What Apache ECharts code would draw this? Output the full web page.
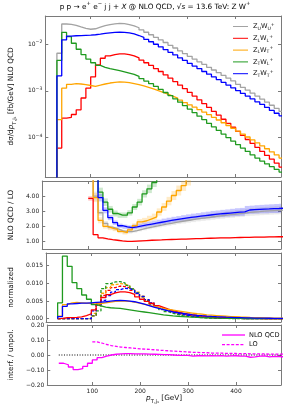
<!DOCTYPE html>
<html><head><meta charset="utf-8">
<script src="https://cdn.jsdelivr.net/npm/echarts@6/dist/echarts.min.js"></script>
<style>html,body{margin:0;padding:0;background:#fff}#c{width:293px;height:410px}</style>
</head><body><div id="c"></div><script>
// ---------------- data ----------------
const binEdges = [30,40,50,60,70,80,90,100,110,120,130,140,150,160,170,180,190,200,210,220,230,240,250,260,270,280,290,300,310,320,330,340,350,360,370,380,390,400,410,420,430,440,450,460,470,480,490,500];
const xTicks = [100,200,300,400];

// panel 1: dsigma/dpT NLO QCD [fb/GeV]
const nloUU = [0.0064,0.0272,0.0268,0.0255,0.0235,0.0218,0.0210,0.0215,0.0232,0.0250,0.0265,0.0275,0.0280,0.0276,0.0265,0.0248,
 0.0226,0.0203,0.0181,0.0160,0.0141,0.0124,0.0109,0.0095,0.0083,0.0072,0.0063,
 0.0055,0.0048,0.0042,0.0037,0.0032,0.0028,0.00245,0.00214,0.00187,0.00163,
 0.00138,0.00119,0.00103,0.00089,0.00077,0.00066,0.00057,0.00049,0.00042,0.00036];
const nloLL = [5.9e-5,2.6e-4,2.7e-4,3.1e-4,3.9e-4,7.0e-4,1.14e-3,2.0e-3,3.6e-3,5.0e-3,5.6e-3,6.0e-3,6.2e-3,6.2e-3,6.0e-3,5.6e-3,
 5.1e-3,4.55e-3,4.0e-3,3.5e-3,3.0e-3,2.6e-3,2.2e-3,1.87e-3,1.58e-3,1.33e-3,1.11e-3,
 9.3e-4,7.7e-4,6.4e-4,5.3e-4,4.4e-4,3.6e-4,3.0e-4,2.45e-4,2.0e-4,1.65e-4,
 1.35e-4,1.1e-4,9.0e-5,7.4e-5,6.1e-5,5.0e-5,4.1e-5,3.4e-5,2.8e-5,2.3e-5];
const nloLT = [2.4e-4,1.14e-3,1.38e-3,1.42e-3,1.40e-3,1.36e-3,1.30e-3,1.25e-3,1.32e-3,1.40e-3,1.47e-3,1.52e-3,1.55e-3,1.54e-3,1.50e-3,1.43e-3,
 1.36e-3,1.28e-3,1.19e-3,1.10e-3,1.01e-3,9.3e-4,8.5e-4,7.7e-4,7.0e-4,6.3e-4,5.6e-4,
 5.0e-4,4.45e-4,3.95e-4,3.5e-4,3.08e-4,2.7e-4,2.36e-4,2.06e-4,1.8e-4,1.57e-4,
 1.36e-4,1.18e-4,1.02e-4,8.8e-5,7.6e-5,6.6e-5,5.7e-5,4.9e-5,4.2e-5,3.6e-5];
const nloTL = [4.5e-3,0.0179,0.0146,0.0105,7.8e-3,6.0e-3,4.8e-3,4.0e-3,3.5e-3,3.2e-3,3.0e-3,2.85e-3,2.7e-3,2.55e-3,2.4e-3,2.25e-3,
 2.05e-3,1.83e-3,1.62e-3,1.42e-3,1.24e-3,1.07e-3,9.2e-4,7.9e-4,6.7e-4,5.7e-4,4.8e-4,
 4.05e-4,3.4e-4,2.85e-4,2.4e-4,2.0e-4,1.68e-4,1.41e-4,1.18e-4,9.9e-5,8.3e-5,
 7.0e-5,5.9e-5,5.0e-5,4.2e-5,3.6e-5,3.1e-5,2.7e-5,2.35e-5,2.05e-5,1.8e-5];
const nloTT = [0.0021,0.0124,0.0150,0.0152,0.0153,0.0155,0.0157,0.0160,0.0165,0.0171,0.0176,0.0180,0.0182,0.0180,0.0175,0.0166,
 0.0154,0.0141,0.0127,0.0113,0.0100,0.0088,0.0077,0.0067,0.0059,0.0051,0.0045,
 0.0039,0.0034,0.0030,0.0026,0.00228,0.00199,0.00174,0.00152,0.00133,0.00116,
 0.00101,0.00088,0.00077,0.00067,0.00058,0.00051,0.00044,0.00038,0.00033,0.00029];

// panel 2: NLO QCD / LO ratio and scale-band half widths
const N7 = [null,null,null,null,null,null,null];
const ratioUU = [...N7, 9.0,4.0,2.9,2.2,1.95,1.85,1.72,1.65,1.65,
 1.72,1.80,1.88,1.95,2.02,2.08,2.15,2.20,2.26,2.32,2.37,
 2.42,2.47,2.52,2.56,2.60,2.65,2.69,2.73,2.77,2.80,
 2.84,2.87,2.92,2.95,2.97,3.00,3.02,3.04,3.06,3.08];
const ratioLL = [...N7, 3.85,1.45,1.24,1.17,1.12,1.08,1.04,1.01,1.00,
 1.02,1.04,1.06,1.08,1.09,1.10,1.12,1.13,1.14,1.15,1.16,
 1.17,1.18,1.19,1.20,1.21,1.22,1.23,1.24,1.24,1.25,
 1.26,1.27,1.27,1.28,1.29,1.29,1.30,1.30,1.31,1.31];
const ratioLT = [...N7, 9.0,3.9,2.4,2.0,1.88,1.80,1.66,1.58,1.76,
 2.04,2.30,2.37,2.50,2.62,2.95,3.28,3.67,4.04,4.37,4.70,
 5.10,5.60,6.20];
const ratioTL = [...N7, 9.0,7.0,4.26,3.6,3.13,2.85,2.74,2.74,2.89,
 3.28,3.60,4.15,4.48,4.90,5.40,6.00];
const ratioTT = [...N7, 9.0,6.0,3.9,3.06,2.58,2.24,2.04,1.97,1.92,
 1.97,2.03,2.09,2.15,2.21,2.27,2.33,2.39,2.44,2.49,2.54,
 2.59,2.63,2.67,2.71,2.75,2.79,2.82,2.85,2.88,2.91,
 2.94,2.96,3.08,3.10,3.12,3.14,3.15,3.17,3.18,3.20];
const bandUU = [...N7, 0.5,0.3,0.2,0.15,0.12,0.12,0.12,0.12,0.12,
 0.13,0.13,0.14,0.14,0.15,0.15,0.16,0.16,0.17,0.17,0.18,
 0.18,0.19,0.19,0.20,0.20,0.21,0.21,0.22,0.22,0.23,
 0.23,0.24,0.24,0.25,0.25,0.26,0.26,0.27,0.27,0.28];
const bandLL = [...N7, 0.15,0.04,0.03,0.03,0.03,0.03,0.03,0.03,0.03,
 0.03,0.03,0.03,0.03,0.03,0.03,0.03,0.03,0.03,0.03,0.03,
 0.03,0.03,0.03,0.03,0.03,0.03,0.03,0.03,0.03,0.03,
 0.03,0.03,0.03,0.03,0.03,0.03,0.03,0.03,0.03,0.03];
const bandLT = [...N7, 0.5,0.3,0.2,0.15,0.13,0.12,0.12,0.12,0.14,
 0.16,0.18,0.19,0.20,0.22,0.24,0.26,0.28,0.30,0.33,0.36,
 0.40,0.44,0.48];
const bandTL = [...N7, 0.6,0.5,0.3,0.25,0.22,0.20,0.18,0.18,0.18,
 0.20,0.22,0.24,0.28,0.30,0.33,0.36];
const bandTT = [...N7, 0.5,0.35,0.25,0.20,0.17,0.15,0.14,0.14,0.14,
 0.15,0.15,0.16,0.16,0.17,0.17,0.18,0.18,0.19,0.19,0.20,
 0.20,0.21,0.21,0.22,0.22,0.23,0.23,0.24,0.24,0.25,
 0.26,0.26,0.27,0.27,0.28,0.28,0.29,0.29,0.30,0.30];

// panel 3: normalized distributions (solid NLO QCD, dashed LO)
const normNloLL = [0.00007,0.0003,0.0003,0.00035,0.0005,0.0009,0.0014,0.0025,0.0042,0.0060,0.0068,0.0073,0.0076,0.0076,0.0074,0.0069,
 0.0062,0.0055,0.0049,0.0043,0.0037,0.0032,0.0027,0.0023,0.0019,0.0016,0.00135,
 0.00113,0.00094,0.00078,0.00065,0.00054,0.00044,0.00037,0.0003,0.00025,0.0002,
 0.00017,0.00014,0.00011,0.00009,0.000075,0.00006,0.00005,0.00004,0.000035,0.00003];
const normNloLT = [0.0007,0.0040,0.0045,0.0046,0.0045,0.0044,0.0043,0.0041,0.0043,0.0045,0.0047,0.0049,0.0050,0.0050,0.0049,0.0047,
 0.0044,0.0041,0.0038,0.0035,0.0032,0.0029,0.0026,0.0024,0.0022,0.0020,0.0018,
 0.0016,0.0014,0.0013,0.0011,0.0010,0.0009,0.0008,0.0007,0.0006,0.00055,
 0.00048,0.00042,0.00036,0.00032,0.00028,0.00024,0.00021,0.00018,0.00016,0.00014];
const normNloTL = [0.0045,0.0177,0.0148,0.0102,0.0085,0.0067,0.0055,0.0040,0.0036,0.0033,0.0031,0.0030,0.0029,0.0027,0.0025,0.0023,
 0.0021,0.0019,0.0017,0.0015,0.0013,0.0011,0.00095,0.0008,0.0007,0.0006,0.0005,
 0.00042,0.00036,0.0003,0.00025,0.00021,0.00017,0.00014,0.00012,0.0001,0.00008,
 0.00007,0.00006,0.00005,0.00004,0.000035,0.00003,0.000025,0.00002,0.00002,0.000015];
const normNloTT = [0.0006,0.0035,0.0042,0.0043,0.0044,0.0044,0.0045,0.0046,0.0047,0.0048,0.0050,0.0051,0.0052,0.0051,0.0050,0.0048,
 0.0045,0.0041,0.0037,0.0033,0.0029,0.0026,0.0022,0.0019,0.0017,0.0015,0.0013,
 0.0011,0.00097,0.00085,0.00074,0.00065,0.00057,0.0005,0.00043,0.00038,0.00033,
 0.00029,0.00025,0.00022,0.00019,0.00017,0.00015,0.00013,0.00011,0.0001,0.00009];
const Z7 = [0,0,0,0,0,0,0];
const normLoLL = [...Z7, 0.0008,0.0040,0.0066,0.0080,0.0088,0.0092,0.0091,0.0087,0.0080,
 0.0071,0.0062,0.0053,0.0045,0.0037,0.0030,0.0025,0.0020,0.0016,0.0013,0.0010,
 0.0008,0.00064,0.0005,0.0004,0.00032,0.00025,0.0002,0.00016,0.00013,0.0001,
 0.00008,0.00006,0.00005,0.00004,0.00003,0.000025,0.00002,0.000015,0.00001,0.00001];
const normLoLT = [...Z7, 0.0015,0.0045,0.0072,0.0088,0.0096,0.0099,0.0098,0.0093,0.0085,
 0.0075,0.0064,0.0054,0.0045,0.0037,0.0030,0.0024,0.0019,0.0015,0.0012,0.0009,
 0.0007,0.00055,0.00043,0.00034,0.00027,0.00021,0.00017,0.00013,0.0001,0.00008,
 0.00006,0.00005,0.00004,0.00003,0.000025,0.00002,0.000015,0.00001,0.00001,0.00001];
const normLoTL = [...Z7, 0.0008,0.0022,0.0085,0.0099,0.0104,0.0105,0.0101,0.0094,0.0084,
 0.0073,0.0062,0.0051,0.0041,0.0033,0.0026,0.0020,0.0015,0.0012,0.0009,0.0007,
 0.00052,0.0004,0.0003,0.00023,0.00017,0.00013,0.0001,0.00008,0.00006,0.00005,
 0.00004,0.00003,0.000025,0.00002,0.000015,0.00001,0.00001,0.00001,0.000005,0.000005];
const normLoTT = [...Z7, 0.0022,0.0038,0.0052,0.0065,0.0075,0.0082,0.0086,0.0085,0.0080,
 0.0072,0.0063,0.0054,0.0045,0.0037,0.0030,0.0024,0.0019,0.0015,0.0012,0.00095,
 0.00075,0.0006,0.00048,0.00038,0.0003,0.00024,0.00019,0.00015,0.00012,0.0001,
 0.00008,0.00006,0.00005,0.00004,0.00003,0.000025,0.00002,0.00002,0.000015,0.00001];

// panel 4: interference / unpolarized
const interfNlo = [-0.055,-0.065,-0.080,-0.097,-0.091,-0.076,-0.055,-0.033,-0.018,-0.008,0.0,0.005,0.008,0.009,0.009,0.008,
 0.008,0.007,0.006,0.005,0.004,0.003,0.002,0.0,-0.002,-0.003,-0.002,
 -0.008,-0.005,-0.004,-0.006,-0.005,-0.006,-0.004,-0.007,-0.006,-0.005,
 -0.008,-0.007,-0.015,-0.012,-0.008,-0.006,-0.013,-0.009,-0.010,-0.012];
const interfLo = [...N7, 0.087,0.080,0.070,0.063,0.058,0.053,0.050,0.047,0.044,
 0.041,0.039,0.037,0.035,0.032,0.030,0.028,0.026,0.024,0.022,0.020,
 0.018,0.017,0.016,0.015,0.013,0.012,0.012,0.011,0.010,0.010,
 0.009,0.009,0.008,0.008,0.007,0.007,0.006,0.006,0.006,0.005];
const zeroRef = 0;

// tick values
const ratioTicks = [1,2,3,4];
const normTicks = [0,0.005,0.01,0.015];
const interfTicks = [-0.2,-0.1,0,0.1,0.2];

// legend labels: [Z pol, W pol]
const legendNames = ['UU','LL','LT','TL','TT'];
const legendPol = {UU:['U','U'],LL:['L','L'],LT:['L','T'],TL:['T','L'],TT:['T','T']};
const legend4 = ['NLO QCD','LO'];

// ---------------- styling ----------------
const FONT = 'DejaVu Sans';
const C = {UU:'#a3a3a3', LL:'#ff0000', LT:'#ffa500', TL:'#1f9a1f', TT:'#0000ff', MAG:'#ff00ff'};
const FRAME = '#7a7a7a';
const DASH = [3,1.6];
const X_MIN = 6, X_MAX = 494;
const grids = [
  {left:29, width:252, top:16, height:161},
  {left:29, width:252, top:181, height:68},
  {left:29, width:252, top:253, height:69},
  {left:29, width:252, top:325, height:60}
];
const rich = {
  n:{fontFamily:FONT,fontSize:7.3,color:'#111',lineHeight:11},
  i:{fontFamily:FONT,fontSize:7.3,color:'#111',fontStyle:'italic',lineHeight:11},
  sub:{fontFamily:FONT,fontSize:5.2,color:'#111',lineHeight:5,verticalAlign:'bottom'},
  sup:{fontFamily:FONT,fontSize:5.2,color:'#111',lineHeight:5,verticalAlign:'top'},
  b:{fontFamily:FONT,fontSize:6,color:'#222',lineHeight:9},
  s:{fontFamily:FONT,fontSize:4.6,color:'#222',lineHeight:4.6,verticalAlign:'top'}
};
const richLeg = {
  n:{fontFamily:FONT,fontSize:6.6,color:'#111',lineHeight:9},
  sub:{fontFamily:FONT,fontSize:4.6,color:'#111',lineHeight:4,verticalAlign:'bottom'},
  sup:{fontFamily:FONT,fontSize:4.6,color:'#111',lineHeight:4,verticalAlign:'top'}
};

function stepData(vals, baseline){
  let first = -1, last = -1;
  for (let i=0;i<vals.length;i++){ if (vals[i]!=null){ if(first<0) first=i; last=i; } }
  const d = [];
  if (baseline !== undefined) d.push([binEdges[first], baseline]);
  for (let i=first;i<=last;i++) d.push([binEdges[i], vals[i]]);
  d.push([binEdges[last+1], vals[last]]);
  return d;
}
function line(name, vals, gi, color, opt){
  opt = opt || {};
  return {type:'line', name:name, step:'end', symbol:'none', showSymbol:false,
    xAxisIndex:gi, yAxisIndex:gi, animation:false, clip:true, z: opt.z || 3,
    data: stepData(vals, opt.baseline),
    lineStyle:{color:color, width: opt.width || 1.3, type: opt.type || 'solid'},
    itemStyle:{color:color}, emphasis:{disabled:true}};
}
function band(name, vals, half, gi, color){
  const d = [];
  for (let i=0;i<vals.length;i++){
    if (vals[i]==null || half[i]==null) continue;
    d.push([binEdges[i], binEdges[i+1], vals[i]-half[i], vals[i]+half[i]]);
  }
  return {type:'custom', name:name, xAxisIndex:gi, yAxisIndex:gi, animation:false, z:2,
    encode:{x:[0,1], y:[2,3]}, data:d,
    renderItem:function(params, api){
      const p0 = api.coord([api.value(0), api.value(3)]);
      const p1 = api.coord([api.value(1), api.value(2)]);
      const r = echarts.graphic.clipRectByRect(
        {x:p0[0], y:p0[1], width:p1[0]-p0[0], height:p1[1]-p0[1]},
        {x:params.coordSys.x, y:params.coordSys.y, width:params.coordSys.width, height:params.coordSys.height});
      if (!r) return null;
      return {type:'rect', shape:r, style:{fill:color, opacity:0.22}};
    }};
}
const minus = s => s.replace('-', '\u2212');
function baseX(gi, pos){
  return {type:'value', gridIndex:gi, min:X_MIN, max:X_MAX, position:pos,
    axisLine:{show:true, onZero:false, lineStyle:{color:FRAME, width:1}},
    axisTick:{show:true, inside:true, length:3, customValues:xTicks, lineStyle:{color:FRAME}},
    axisLabel:{show: gi===3 && pos==='bottom', customValues:xTicks, fontFamily:FONT, fontSize:6, color:'#222', margin:3},
    splitLine:{show:false}};
}
function baseY(gi, pos, extra){
  return Object.assign({gridIndex:gi, position:pos,
    axisLine:{show:true, onZero:false, lineStyle:{color:FRAME, width:1}},
    splitLine:{show:false}}, extra);
}
const xAxes = [], yAxes = [];
for (let g=0; g<4; g++) xAxes.push(baseX(g,'bottom'));
for (let g=0; g<4; g++) xAxes.push(baseX(g,'top'));
xAxes[3].name = '{i|p}{sub|T,j\u2081}{n| [GeV]}';
xAxes[3].nameLocation = 'middle';
xAxes[3].nameGap = 8;
xAxes[3].nameTextStyle = {rich:rich, fontFamily:FONT, fontSize:7.3, color:'#111'};

const lab = {fontFamily:FONT, fontSize:6, color:'#222', margin:3};
const tick = (vals)=>({show:true, inside:true, length:3, lineStyle:{color:FRAME}, customValues:vals});
const logY = (pos, show)=>baseY(0, pos, {type:'log', logBase:10, min:1.41e-5, max:0.0404,
  axisTick:{show:true, inside:true, length:3, lineStyle:{color:FRAME}},
  axisLabel:{show:show, showMinLabel:false, showMaxLabel:false, fontFamily:FONT, fontSize:6, margin:3, rich:rich,
    formatter:function(v){ const e = Math.round(Math.log10(v)); return '{b|10}{s|\u2212'+Math.abs(e)+'}'; }}});
const nameStyle = {rich:rich, fontFamily:FONT, fontSize:7.3, color:'#111'};
yAxes.push(Object.assign(logY('left', true), {name:'{n|d\u03c3/d}{i|p}{sub|T,j\u2081}{n| [fb/GeV] NLO QCD}', nameLocation:'middle', nameGap:19, nameTextStyle:nameStyle}));
yAxes.push(baseY(1,'left',{type:'value', min:0.5, max:5, axisTick:tick(ratioTicks),
  axisLabel:Object.assign({customValues:ratioTicks, formatter:v=>v.toFixed(2)}, lab),
  name:'NLO QCD / LO', nameLocation:'middle', nameGap:18, nameTextStyle:nameStyle}));
yAxes.push(baseY(2,'left',{type:'value', min:-0.00093, max:0.01858, axisTick:tick(normTicks),
  axisLabel:Object.assign({customValues:normTicks, formatter:v=>v.toFixed(3)}, lab),
  name:'normalized', nameLocation:'middle', nameGap:22, nameTextStyle:nameStyle}));
yAxes.push(baseY(3,'left',{type:'value', min:-0.2, max:0.2, axisTick:tick(interfTicks),
  axisLabel:Object.assign({customValues:interfTicks, formatter:v=>minus(v.toFixed(2))}, lab),
  name:'interf. / unpol.', nameLocation:'middle', nameGap:20, nameTextStyle:nameStyle}));
yAxes.push(logY('right', false));
yAxes.push(baseY(1,'right',{type:'value', min:0.5, max:5, axisTick:tick(ratioTicks), axisLabel:{show:false}}));
yAxes.push(baseY(2,'right',{type:'value', min:-0.00093, max:0.01858, axisTick:tick(normTicks), axisLabel:{show:false}}));
yAxes.push(baseY(3,'right',{type:'value', min:-0.2, max:0.2, axisTick:tick(interfTicks), axisLabel:{show:false}}));

// ---------------- series ----------------
const series = [];
const p1 = {UU:nloUU, LL:nloLL, LT:nloLT, TL:nloTL, TT:nloTT};
legendNames.forEach(k => series.push(line(k, p1[k], 0, C[k], {baseline:1e-8})));
const p2 = {UU:[ratioUU,bandUU], LL:[ratioLL,bandLL], LT:[ratioLT,bandLT], TL:[ratioTL,bandTL], TT:[ratioTT,bandTT]};
legendNames.forEach(k => series.push(band('band'+k, p2[k][0], p2[k][1], 1, C[k])));
legendNames.forEach(k => series.push(line('ratio'+k, p2[k][0], 1, C[k])));
const p3 = {LL:[normNloLL,normLoLL], LT:[normNloLT,normLoLT], TL:[normNloTL,normLoTL], TT:[normNloTT,normLoTT]};
['LL','LT','TL','TT'].forEach(k => series.push(line('lo'+k, p3[k][1], 2, C[k], {baseline:0, type:DASH})));
['LL','LT','TL','TT'].forEach(k => series.push(line('nlo'+k, p3[k][0], 2, C[k], {baseline:0})));
series.push({type:'line', name:'zero', symbol:'none', xAxisIndex:3, yAxisIndex:3, animation:false, z:2,
  data:[[binEdges[0], zeroRef],[X_MAX, zeroRef]], lineStyle:{color:'#000', width:1, type:[1,1.6]}});
series.push(line(legend4[0], interfNlo, 3, C.MAG));
series.push(line(legend4[1], interfLo, 3, C.MAG, {type:DASH}));

const legendText = k => '{n|Z}{sub|'+legendPol[k][0]+'}{n|W}{sub|'+legendPol[k][1]+'}{sup|+}';
const SOLID_ICON = 'path://M0,0h15v1h-15z';

// panel-4 legend drawn as graphic keys
const leg4 = [];
legend4.forEach((name, i) => {
  const y = 335 + i * 9.7;
  leg4.push({type:'line', silent:true, shape:{x1:222, y1:y, x2:245, y2:y},
    style:{stroke:C.MAG, lineWidth:1.3, lineDash: i===1 ? DASH : null}});
  leg4.push({type:'text', silent:true, x:249, y:y, style:{text:name, fontFamily:FONT, fontSize:6.6, fill:'#111', verticalAlign:'middle', align:'left'}});
});

const option = {
  backgroundColor:'#fff',
  animation:false,
  textStyle:{fontFamily:FONT},
  grid: grids,
  xAxis: xAxes,
  yAxis: yAxes,
  legend:[
    {data:legendNames.map(k=>({name:k, icon:SOLID_ICON, itemStyle:{color:C[k]}})),
     orient:'vertical', left:233, top:22, padding:0, itemWidth:15, itemHeight:1.5, itemGap:2.8,
     selectedMode:false, formatter:legendText, textStyle:{rich:richLeg, fontFamily:FONT, fontSize:6.6, color:'#111'}}
  ],
  graphic:[
    {type:'text', x:155, y:7, silent:true, style:{
      text:'{n|p p \u2192 e}{sup|+}{n| e}{sup|\u2212}{n| j j + }{i|X}{n| @ NLO QCD, \u221a}{i|s}{n| = 13.6 TeV: Z W}{sup|+}',
      rich:rich, align:'center', verticalAlign:'middle', fontFamily:FONT, fontSize:7.3}},
    ...leg4
  ],
  series: series
};
const chart = echarts.init(document.getElementById('c'), null, {renderer:'canvas'});
chart.setOption(option);
</script></body></html>
